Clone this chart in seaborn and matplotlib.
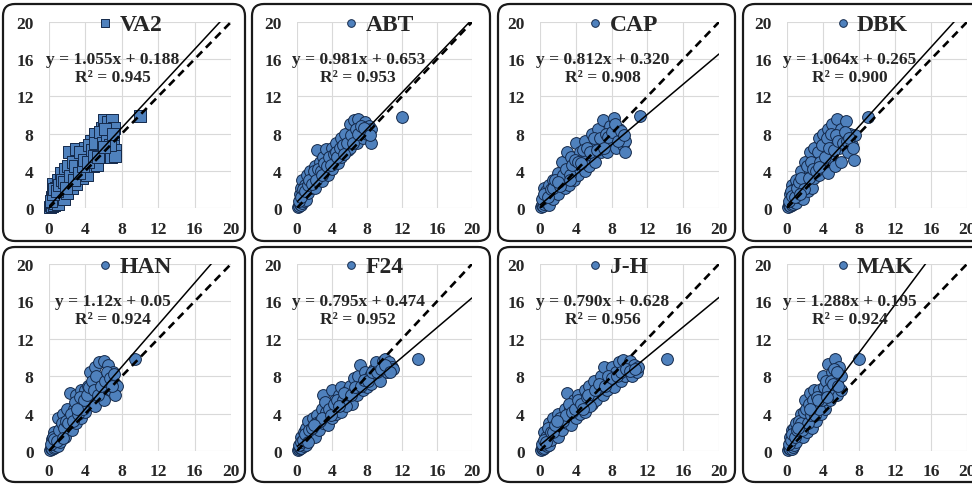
# Observed vs estimated scatter panels, one per station
import numpy as np
import pandas as pd
import matplotlib.pyplot as plt
import seaborn as sns
from matplotlib.patches import FancyBboxPatch

stations = ["VA2", "ABT", "CAP", "DBK", "HAN", "F24", "J-H", "MAK"]
eq_labels = ["y = 1.055x + 0.188", "y = 0.981x + 0.653", "y = 0.812x + 0.320",
             "y = 1.064x + 0.265", "y = 1.12x + 0.05", "y = 0.795x + 0.474",
             "y = 0.790x + 0.628", "y = 1.288x + 0.195"]
slopes = [1.055, 0.981, 0.812, 1.064, 1.12, 0.795, 0.790, 1.288]
intercepts = [0.188, 0.653, 0.320, 0.265, 0.05, 0.474, 0.628, 0.195]
r2_values = ["0.945", "0.953", "0.908", "0.900", "0.924", "0.952", "0.956", "0.924"]
ticks = [0, 4, 8, 12, 16, 20]

va2_x = [0.1, 0.2, 0.3, 0.4, 0.5, 0.6, 0.7, 0.8, 0.9, 1.0,
         0.3, 0.5, 0.4, 0.8, 1.0, 1.2, 1.3, 1.5, 1.6, 1.8,
         2.0, 2.0, 2.2, 2.4, 2.5, 2.8, 3.0, 3.0, 3.2, 3.5,
         3.6, 4.0, 4.0, 4.2, 4.5, 4.6, 4.8, 5.0, 5.2, 5.3,
         5.5, 5.8, 5.8, 6.0, 6.2, 6.3, 6.5, 6.6, 6.8, 6.9,
         7.0, 7.1, 7.2, 7.2, 10.0,
         0.2, 0.4, 0.6, 0.9, 1.1, 1.4, 1.7, 1.9, 2.1, 2.3,
         2.6, 2.7, 2.9, 3.3, 3.4, 3.7, 3.9, 4.3, 4.4, 4.7,
         4.9, 5.1, 5.4, 5.6, 5.9, 6.1, 6.4, 6.7, 7.0, 6.0]
va2_y = [0.1, 0.3, 0.2, 0.6, 0.3, 1.0, 0.5, 1.4, 0.8, 0.4,
         1.2, 1.8, 2.6, 2.2, 3.0, 1.5, 3.8, 2.4, 1.0, 4.2,
         3.0, 1.6, 6.0, 4.5, 2.2, 3.5, 6.3, 2.6, 4.8, 5.5,
         3.2, 6.5, 4.0, 3.5, 5.8, 7.2, 4.5, 8.0, 6.0, 4.6,
         7.0, 8.6, 5.5, 9.5, 7.5, 6.0, 9.2, 8.0, 5.5, 9.5,
         7.0, 8.6, 6.2, 5.6, 9.9,
         0.8, 1.5, 2.0, 1.8, 2.5, 3.0, 2.8, 2.2, 4.5, 3.4,
         5.0, 3.0, 4.5, 3.8, 6.0, 4.5, 5.2, 5.0, 6.8, 6.2,
         5.6, 7.0, 5.5, 8.2, 7.0, 8.5, 7.2, 6.8, 8.0, 6.6]

abt_x = [0.1, 0.2, 0.3, 0.4, 0.5, 0.6, 0.7, 0.8, 0.9, 1.0,
         0.3, 0.5, 0.6, 0.9, 1.1, 1.3, 1.5, 1.6, 1.8, 2.0,
         2.0, 2.3, 2.5, 2.6, 2.8, 3.0, 3.2, 3.3, 3.5, 3.8,
         4.0, 4.0, 4.3, 4.5, 4.7, 5.0, 5.0, 5.3, 5.5, 5.8,
         6.0, 6.0, 6.3, 6.5, 6.8, 7.0, 7.2, 7.5, 7.8, 8.0,
         8.2, 8.5, 8.4, 12.0,
         0.2, 0.4, 0.7, 0.9, 1.2, 1.4, 1.7, 1.9, 2.2, 2.4,
         2.7, 2.9, 3.1, 3.4, 3.6, 3.9, 4.2, 4.4, 4.6, 4.9,
         5.2, 5.4, 5.7, 6.2, 6.4, 6.7, 7.0, 7.3, 7.7, 8.3]
abt_y = [0.1, 0.2, 0.4, 0.3, 0.8, 0.5, 1.2, 0.7, 1.0, 0.9,
         1.5, 2.2, 3.0, 2.5, 3.5, 1.6, 4.0, 2.2, 3.2, 2.1,
         4.5, 6.2, 3.0, 5.0, 2.9, 5.5, 4.0, 6.3, 3.6, 5.2,
         6.5, 4.2, 5.0, 7.0, 4.8, 7.5, 5.5, 6.0, 8.0, 6.2,
         9.0, 6.5, 7.5, 9.5, 7.0, 9.6, 8.5, 7.5, 9.3, 8.0,
         8.8, 8.5, 7.0, 9.8,
         0.7, 1.2, 2.0, 1.8, 2.5, 3.0, 2.6, 4.0, 3.0, 4.2,
         4.0, 3.5, 4.8, 4.5, 5.5, 4.6, 5.8, 6.0, 5.5, 6.5,
         6.8, 5.8, 7.0, 7.8, 7.0, 8.5, 8.0, 8.8, 8.6, 7.8]

cap_x = [0.1, 0.2, 0.3, 0.4, 0.5, 0.6, 0.8, 1.0, 0.4, 0.7,
         1.0, 1.2, 1.5, 1.5, 1.8, 2.0, 2.0, 2.3, 2.5, 2.8,
         3.0, 3.0, 3.2, 3.5, 3.8, 4.0, 4.0, 4.3, 4.5, 5.0,
         5.0, 5.3, 5.5, 5.8, 6.0, 6.2, 6.5, 6.8, 7.0, 7.2,
         7.5, 7.8, 8.0, 8.3, 8.5, 8.8, 9.0, 9.3, 9.5, 9.5,
         11.2,
         0.2, 0.5, 0.9, 1.2, 1.4, 1.7, 2.2, 2.6, 2.9, 3.3,
         3.6, 3.9, 4.2, 4.6, 4.8, 5.2, 5.6, 6.0, 6.4, 6.7,
         7.1, 7.4, 7.6, 8.1, 8.4, 8.7, 9.1, 9.4, 2.0, 3.4]
cap_y = [0.1, 0.3, 0.2, 0.6, 0.4, 1.0, 0.5, 0.3, 2.2, 1.8,
         2.5, 1.2, 3.0, 1.0, 2.0, 3.8, 1.5, 2.8, 5.0, 2.2,
         6.0, 3.5, 2.5, 5.5, 3.0, 7.0, 4.2, 3.5, 6.0, 7.2,
         4.0, 5.5, 4.5, 8.0, 6.5, 5.0, 8.5, 6.0, 9.5, 7.5,
         6.0, 8.8, 7.0, 9.7, 6.5, 8.5, 7.5, 6.8, 7.2, 6.0,
         9.9,
         1.0, 1.5, 1.2, 2.0, 2.2, 3.0, 2.4, 3.5, 4.2, 3.6,
         4.6, 5.2, 5.0, 4.8, 6.2, 6.5, 6.0, 7.5, 6.2, 7.5,
         6.5, 8.0, 7.6, 8.2, 9.0, 7.2, 8.3, 7.8, 2.8, 3.0]

dbk_x = [0.1, 0.2, 0.3, 0.4, 0.5, 0.6, 0.7, 0.8, 1.0, 0.3,
         0.5, 0.8, 1.0, 1.2, 1.5, 1.5, 1.8, 2.0, 2.0, 2.3,
         2.5, 2.5, 2.8, 3.0, 3.0, 3.3, 3.5, 3.5, 3.8, 4.0,
         4.0, 4.3, 4.5, 4.5, 4.8, 5.0, 5.0, 5.3, 5.5, 5.8,
         6.0, 6.0, 6.3, 6.5, 6.8, 7.0, 7.2, 7.5, 7.4, 9.0,
         0.2, 0.4, 0.6, 0.9, 1.1, 1.3, 1.6, 1.9, 2.2, 2.4,
         2.7, 2.9, 3.2, 3.4, 3.7, 3.9, 4.2, 4.4, 4.7, 4.9,
         5.2, 5.4, 5.7, 6.2, 6.4, 6.7, 6.9, 7.3, 1.4, 3.6]
dbk_y = [0.1, 0.3, 0.2, 0.5, 0.3, 0.8, 0.4, 0.6, 0.5, 1.5,
         2.5, 2.0, 3.0, 1.2, 4.0, 2.3, 1.0, 5.0, 3.0, 1.8,
         6.0, 4.0, 2.2, 6.5, 3.2, 5.0, 7.5, 3.5, 6.0, 8.0,
         4.5, 6.8, 8.5, 3.8, 5.5, 9.0, 7.0, 4.5, 9.6, 6.5,
         8.5, 5.0, 7.5, 9.4, 6.0, 8.0, 6.8, 7.8, 5.2, 9.8,
         0.8, 1.8, 1.3, 1.2, 2.2, 2.8, 3.2, 2.0, 4.5, 3.2,
         5.0, 4.2, 4.0, 6.0, 5.0, 6.8, 5.5, 7.5, 6.5, 8.0,
         6.2, 7.8, 7.2, 7.0, 8.2, 7.2, 7.5, 6.5, 1.5, 4.4]

han_x = [0.1, 0.2, 0.3, 0.4, 0.5, 0.6, 0.7, 0.8, 1.0, 0.3,
         0.5, 0.8, 1.0, 1.2, 1.3, 1.5, 1.8, 2.0, 2.0, 2.2,
         2.3, 2.5, 2.8, 3.0, 3.0, 3.3, 3.5, 3.5, 3.8, 4.0,
         4.0, 4.3, 4.5, 4.5, 4.8, 5.0, 5.0, 5.3, 5.5, 5.8,
         6.0, 6.0, 6.3, 6.5, 6.8, 7.0, 7.2, 7.5, 7.3, 9.5,
         0.2, 0.4, 0.6, 0.9, 1.1, 1.4, 1.6, 1.9, 2.1, 2.4,
         2.6, 2.9, 3.2, 3.4, 3.7, 3.9, 4.2, 4.4, 4.7, 4.9,
         5.2, 5.4, 5.7, 6.2, 6.4, 6.7, 6.9, 7.1, 1.5, 3.1]
han_y = [0.1, 0.3, 0.2, 0.5, 0.3, 0.9, 0.4, 0.6, 0.5, 1.3,
         2.0, 1.6, 3.5, 1.0, 2.5, 4.0, 1.5, 4.5, 2.5, 3.5,
         6.2, 2.2, 4.5, 6.0, 3.0, 5.0, 6.5, 3.5, 5.5, 6.5,
         4.2, 7.0, 8.5, 5.0, 6.0, 9.0, 4.8, 7.5, 9.5, 6.5,
         9.6, 5.5, 8.0, 9.2, 6.5, 8.5, 7.2, 7.0, 6.0, 9.8,
         0.7, 1.5, 1.3, 1.1, 2.2, 3.0, 2.5, 3.2, 3.0, 4.0,
         3.2, 5.2, 4.0, 5.8, 4.5, 5.5, 6.0, 6.8, 7.5, 6.5,
         8.0, 6.0, 7.0, 7.5, 8.5, 7.8, 7.0, 8.2, 1.4, 4.5]

f24_x = [0.1, 0.2, 0.3, 0.4, 0.5, 0.6, 0.8, 1.0, 0.5, 0.8,
         1.0, 1.3, 1.5, 1.8, 2.0, 2.0, 2.3, 2.5, 2.8, 3.0,
         3.0, 3.3, 3.5, 3.8, 4.0, 4.0, 4.3, 4.5, 4.8, 5.0,
         5.0, 5.5, 5.8, 6.0, 6.3, 6.5, 6.8, 7.0, 7.2, 7.5,
         7.8, 8.0, 8.3, 8.5, 8.8, 9.0, 9.3, 9.5, 9.8, 10.0,
         10.3, 10.5, 10.8, 11.0, 13.8,
         0.2, 0.4, 0.7, 0.9, 1.2, 1.4, 1.7, 2.2, 2.6, 2.9,
         3.2, 3.6, 3.9, 4.2, 4.6, 5.2, 5.4, 5.6, 6.2, 6.6,
         7.3, 7.6, 8.1, 8.6, 9.1, 9.6, 10.1, 10.6, 1.9, 4.8]
f24_y = [0.1, 0.2, 0.3, 0.5, 0.3, 0.8, 0.5, 0.6, 1.5, 2.0,
         2.5, 3.2, 1.5, 3.5, 2.5, 1.5, 3.8, 2.2, 4.5, 6.0,
         3.0, 4.2, 2.8, 5.0, 6.5, 3.5, 5.5, 4.0, 6.0, 6.8,
         4.2, 5.5, 6.5, 7.0, 5.0, 7.8, 6.0, 8.0, 9.2, 6.5,
         8.5, 6.8, 8.0, 7.2, 8.8, 9.5, 8.0, 7.5, 9.6, 9.8,
         8.5, 9.5, 9.0, 8.8, 9.8,
         0.6, 1.0, 1.2, 1.8, 1.0, 2.2, 2.5, 3.0, 3.2, 3.5,
         5.2, 4.5, 3.8, 5.0, 5.5, 5.5, 6.2, 4.8, 6.0, 6.8,
         7.0, 7.6, 7.5, 8.5, 8.5, 8.8, 9.2, 8.5, 2.8, 4.8]

jh_x = [0.1, 0.2, 0.3, 0.4, 0.5, 0.6, 0.8, 1.0, 0.4, 0.7,
        1.0, 1.2, 1.5, 1.8, 2.0, 2.0, 2.3, 2.5, 2.8, 3.0,
        3.0, 3.3, 3.5, 3.8, 4.0, 4.0, 4.3, 4.5, 4.8, 5.0,
        5.0, 5.5, 5.8, 6.0, 6.3, 6.5, 6.8, 7.0, 7.2, 7.5,
        7.8, 8.0, 8.3, 8.5, 8.8, 9.0, 9.3, 9.5, 9.8, 10.0,
        10.3, 10.5, 10.8, 11.0, 14.2,
        0.2, 0.4, 0.7, 0.9, 1.2, 1.4, 1.7, 2.2, 2.6, 2.9,
        3.2, 3.6, 3.9, 4.2, 4.6, 5.2, 5.4, 5.6, 6.2, 6.6,
        7.3, 7.6, 8.1, 8.6, 9.1, 9.6, 10.1, 10.6, 1.9, 4.8]
jh_y = [0.1, 0.3, 0.2, 0.5, 0.3, 0.8, 0.5, 0.6, 2.0, 1.5,
        3.0, 1.2, 3.5, 2.5, 4.0, 1.5, 3.0, 2.2, 4.5, 6.2,
        3.0, 4.5, 2.8, 5.5, 5.0, 3.5, 6.0, 4.0, 5.5, 6.5,
        4.2, 7.0, 5.0, 7.5, 5.5, 6.5, 8.0, 6.0, 9.0, 6.5,
        7.5, 9.0, 6.8, 8.5, 9.5, 7.5, 9.7, 8.0, 9.0, 9.6,
        8.0, 9.2, 8.5, 9.0, 9.8,
        0.7, 1.2, 1.0, 2.5, 2.0, 2.0, 2.8, 3.5, 3.2, 3.8,
        5.0, 4.2, 4.5, 5.5, 5.0, 5.8, 6.0, 4.8, 6.5, 7.2,
        7.0, 8.0, 7.8, 8.0, 8.5, 8.8, 8.6, 8.8, 3.2, 4.5]

mak_x = [0.1, 0.2, 0.3, 0.4, 0.5, 0.6, 0.7, 0.8, 0.3, 0.5,
         0.8, 1.0, 1.0, 1.2, 1.5, 1.5, 1.8, 2.0, 2.0, 2.2,
         2.5, 2.5, 2.8, 3.0, 3.0, 3.2, 3.5, 3.5, 3.8, 4.0,
         4.0, 4.2, 4.5, 4.5, 4.8, 5.0, 5.0, 5.3, 5.5, 5.5,
         5.8, 6.0, 6.0, 8.0,
         0.2, 0.4, 0.6, 0.9, 1.1, 1.3, 1.6, 1.7, 1.9, 2.1,
         2.3, 2.4, 2.7, 2.9, 3.1, 3.3, 3.6, 3.9, 4.1, 4.3,
         4.6, 4.9, 5.1, 5.2, 5.6, 5.7, 1.2, 2.6, 3.4, 4.4]
mak_y = [0.1, 0.3, 0.2, 0.5, 0.2, 0.8, 0.4, 0.6, 1.5, 2.2,
         2.5, 3.0, 1.0, 1.8, 4.0, 2.5, 1.5, 5.5, 3.2, 2.0,
         6.2, 4.0, 2.5, 6.5, 4.5, 3.2, 6.5, 5.0, 4.0, 8.0,
         6.0, 4.5, 9.3, 7.0, 5.5, 8.5, 6.5, 9.8, 7.5, 6.0,
         9.0, 8.0, 6.5, 9.8,
         0.8, 1.2, 1.8, 1.5, 2.2, 3.2, 3.0, 2.2, 4.2, 4.5,
         3.0, 5.0, 3.8, 5.5, 3.8, 5.8, 4.5, 5.5, 6.8, 7.5,
         6.5, 7.5, 7.2, 8.8, 8.5, 7.0, 2.5, 4.5, 5.5, 5.8]

all_x = [va2_x, abt_x, cap_x, dbk_x, han_x, f24_x, jh_x, mak_x]
all_y = [va2_y, abt_y, cap_y, dbk_y, han_y, f24_y, jh_y, mak_y]

sns.set_theme(style="white")
plt.rcParams["font.family"] = ["Liberation Serif", "DejaVu Serif"]
plt.rcParams["font.weight"] = "bold"

W, H = 972, 485
fig = plt.figure(figsize=(W / 100, H / 100), dpi=100)

# plot area positions in pixels (left, width) and (top, height)
cols = [(49, 182), (297, 175), (540, 179), (787, 180)]
rows = [(23, 186), (265, 187)]
# rounded panel frames in pixels (left, right) and (top, bottom)
box_cols = [(3, 245), (252, 490), (498, 735), (743, 995)]
box_rows = [(5, 242), (248, 483)]

for r, (bt, bb) in enumerate(box_rows):
    for c, (bl, br) in enumerate(box_cols):
        fig.patches.append(FancyBboxPatch(
            (bl / 100, (H - bb) / 100), (br - bl) / 100, (bb - bt) / 100,
            boxstyle="round,pad=0,rounding_size=0.12",
            transform=fig.dpi_scale_trans, fill=False, lw=1.6, ec="#1a1a1a"))

line_x = np.array([0, 20])
for i, name in enumerate(stations):
    r, c = divmod(i, 4)
    left, w = cols[c]
    top, h = rows[r]
    ax = fig.add_axes([left / W, 1 - (top + h) / H, w / W, h / H])
    df = pd.DataFrame({"x": all_x[i], "y": all_y[i]})
    sns.scatterplot(data=df, x="x", y="y", ax=ax,
                    marker="s" if name == "VA2" else "o", s=72,
                    color="#4F81BD", edgecolor="#14294A", linewidth=0.7,
                    label=name, zorder=3, clip_on=False)
    ax.plot(line_x, slopes[i] * line_x + intercepts[i], color="black", lw=1.1, zorder=4)
    ax.plot(line_x, line_x, color="black", lw=1.9, ls=(0, (3, 2)), zorder=4)
    ax.set_xlim(0, 20)
    ax.set_ylim(0, 20)
    ax.set_xticks(ticks)
    ax.set_yticks(ticks)
    ax.grid(True, color="#D9D9D9", lw=0.8)
    ax.set_axisbelow(True)
    for s in ax.spines.values():
        s.set_visible(False)
    ax.tick_params(axis="x", length=0, labelsize=12.5, pad=9)
    ax.tick_params(axis="y", length=0, labelsize=12.5, pad=11)
    ax.set_xlabel("")
    ax.set_ylabel("")
    ax.text(7, 16, eq_labels[i], ha="center", va="center", fontsize=12.5, weight="bold", zorder=5)
    ax.text(7, 14.1, "R² = " + r2_values[i], ha="center", va="center", fontsize=12.5, weight="bold", zorder=5)
    ax.legend(loc="center left", bbox_to_anchor=(0.27, 0.99), frameon=False,
              prop={"size": 17, "weight": "bold"}, handlelength=0.6,
              handletextpad=0.3, borderpad=0, borderaxespad=0, markerscale=0.65)

plt.savefig("out.png", dpi=100)
plt.close()
